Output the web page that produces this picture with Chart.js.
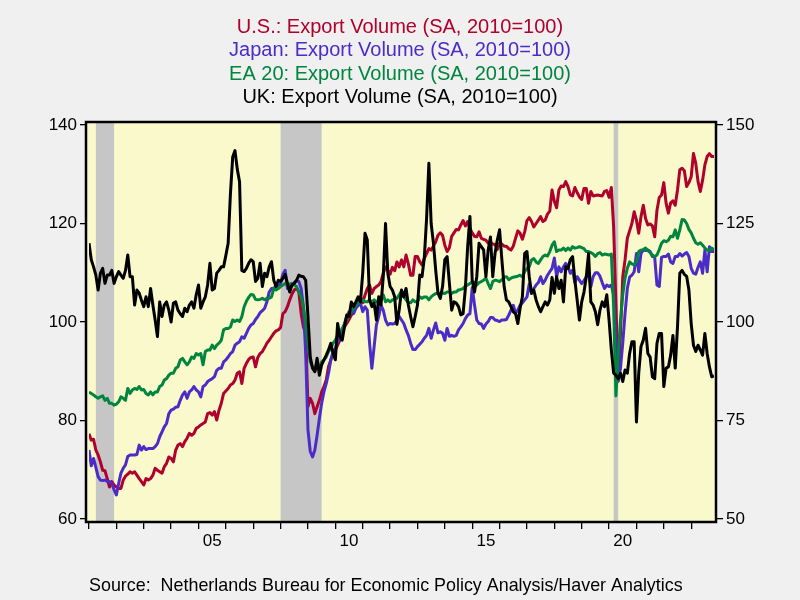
<!DOCTYPE html>
<html>
<head>
<meta charset="utf-8">
<script src="https://cdn.jsdelivr.net/npm/chart.js@4.4.0/dist/chart.umd.min.js"></script>
<style>
  body { margin: 0; background: #f0f0f0; }
  #marco { width: 800px; height: 600px; }
</style>
</head>
<body>
<div id="marco"><canvas id="exportaciones" width="800" height="600"></canvas></div>
<script>
// Volumen de exportaciones (SA, 2010=100), datos mensuales desde ene-2001
var anioInicio = 2001;
var aniosEtiqueta = [2005, 2010, 2015, 2020];
var textosEtiqueta = ['05', '10', '15', '20'];
var ticksIzq = [60, 80, 100, 120, 140];
var ticksDer = [50, 75, 100, 125, 150];
// recesiones: [anio, mes, anio, mes]
var recesiones = [[2001, 4, 2001, 12], [2008, 1, 2009, 7], [2020, 3, 2020, 5]];

var eeuu = [
  77.3, 76.0, 76.2, 74.0, 73.0, 71.6, 69.9, 69.8, 68.2, 66.5, 67.6, 66.9, 66.5, 66.2, 66.2, 67.9, 68.7, 69.1, 69.6, 69.3,
  69.6, 68.9, 68.2, 67.6, 66.9, 68.2, 67.9, 68.2, 68.9, 70.3, 69.9, 69.6, 69.3, 70.6, 71.3, 72.6, 72.3, 71.6, 74.0, 75.0,
  75.3, 74.7, 75.7, 76.4, 77.4, 77.0, 77.4, 78.4, 78.7, 79.1, 79.4, 79.7, 81.4, 81.6, 81.1, 81.8, 80.1, 82.1, 83.5, 85.5,
  86.0, 86.5, 87.2, 87.5, 88.2, 89.6, 89.9, 87.5, 90.6, 91.6, 92.4, 92.8, 92.9, 90.9, 92.8, 93.6, 94.0, 94.8, 95.7, 96.3,
  97.0, 97.7, 98.2, 98.4, 98.9, 101.7, 102.1, 103.1, 104.5, 105.7, 106.5, 106.8, 106.1, 101.7, 99.0, 97.7, 82.8, 84.5, 83.5, 81.4,
  82.8, 84.1, 85.8, 86.9, 88.2, 90.9, 92.3, 93.6, 94.3, 95.3, 96.3, 98.0, 99.0, 99.7, 100.5, 101.4, 102.1, 103.4, 104.5, 105.1,
  103.9, 105.5, 106.8, 107.5, 105.8, 106.8, 107.2, 107.5, 108.2, 109.9, 111.2, 110.5, 109.7, 111.1, 110.4, 112.2, 111.2, 112.6, 111.2, 113.6,
  111.8, 109.5, 109.5, 113.3, 113.3, 112.2, 111.6, 112.9, 113.9, 114.9, 114.6, 115.4, 116.3, 117.6, 118.1, 117.6, 115.6, 114.3, 115.1, 117.4,
  118.1, 118.8, 118.7, 119.7, 120.6, 119.5, 120.4, 119.0, 118.1, 117.4, 117.3, 118.3, 117.0, 116.8, 116.6, 116.0, 116.3, 115.8, 115.8, 114.7,
  116.0, 115.8, 115.4, 115.4, 114.9, 114.6, 115.4, 117.0, 118.5, 118.0, 116.8, 118.3, 120.6, 121.2, 120.4, 119.3, 120.0, 120.7, 121.4, 120.4,
  120.7, 121.9, 122.5, 126.8, 124.5, 123.2, 126.8, 127.6, 127.5, 128.5, 127.5, 125.8, 125.6, 127.3, 126.3, 125.4, 124.9, 127.1, 127.1, 124.1,
  126.5, 125.6, 125.7, 125.8, 125.7, 125.6, 126.5, 126.7, 125.3, 127.3, 119.3, 103.8, 88.0, 97.5, 109.2, 112.6, 117.0, 118.5, 120.0, 122.4,
  120.7, 118.0, 121.4, 123.7, 121.0, 119.7, 119.9, 119.5, 117.3, 122.7, 125.3, 125.8, 128.3, 124.1, 122.1, 124.2, 124.6, 123.7, 126.8, 130.9,
  131.2, 130.7, 127.5, 128.3, 129.5, 134.2, 132.2, 128.5, 126.5, 128.8, 131.9, 133.6, 134.2, 133.6, 133.6
];

var japon = [
  74.0, 70.8, 72.3, 70.5, 68.6, 67.9, 67.8, 67.9, 67.6, 67.6, 67.2, 65.9, 64.9, 67.2, 69.3, 70.3, 71.0, 72.7, 73.0, 73.0,
  73.0, 73.1, 75.0, 74.0, 74.7, 74.1, 74.3, 74.3, 74.3, 74.7, 75.3, 76.7, 77.7, 78.7, 79.4, 81.4, 82.1, 82.3, 82.7, 82.8,
  84.1, 85.2, 85.8, 84.5, 85.8, 86.2, 86.9, 86.2, 85.8, 84.8, 86.9, 87.2, 87.9, 88.2, 88.5, 88.9, 90.2, 90.6, 90.6, 91.9,
  92.3, 92.9, 93.6, 94.0, 95.3, 95.7, 96.0, 97.0, 96.7, 97.7, 98.7, 99.4, 99.7, 100.5, 101.1, 101.9, 102.3, 102.8, 104.1, 106.1,
  106.8, 106.8, 107.5, 107.2, 107.8, 109.7, 110.5, 106.8, 106.8, 107.5, 108.0, 108.4, 108.2, 106.8, 103.1, 93.6, 78.1, 73.7, 72.6, 74.0,
  77.0, 80.4, 83.5, 85.8, 87.5, 89.6, 92.3, 94.0, 94.6, 96.0, 97.0, 98.4, 99.7, 101.1, 102.1, 102.1, 101.7, 102.8, 103.4, 103.8,
  102.1, 103.1, 102.4, 95.7, 90.6, 95.0, 99.4, 101.1, 103.4, 102.4, 100.4, 99.4, 99.7, 99.6, 99.7, 100.4, 101.1, 100.4, 99.7, 98.4,
  97.3, 95.7, 94.4, 94.4, 95.0, 95.5, 96.0, 96.7, 97.3, 98.7, 96.7, 98.4, 99.8, 97.8, 98.0, 97.7, 96.3, 98.7, 97.1, 97.3,
  97.1, 97.3, 98.4, 99.0, 99.7, 100.7, 101.4, 101.7, 107.0, 103.5, 100.4, 99.7, 99.6, 98.7, 99.6, 100.1, 100.9, 100.9, 100.4, 100.3,
  100.1, 100.4, 100.4, 100.5, 101.4, 102.4, 103.4, 101.9, 102.4, 103.4, 103.9, 104.5, 105.1, 107.7, 105.8, 106.8, 107.5, 108.0, 109.2, 107.8,
  108.5, 109.5, 110.2, 110.9, 113.0, 109.2, 111.2, 110.2, 111.2, 111.9, 111.2, 109.9, 110.5, 108.0, 109.2, 108.5, 107.8, 108.4, 109.2, 109.9,
  107.2, 109.2, 110.0, 110.0, 109.3, 108.0, 106.8, 107.5, 107.2, 107.5, 105.5, 96.0, 88.0, 90.6, 95.7, 101.7, 106.8, 109.1, 109.5, 110.2,
  113.9, 110.2, 113.9, 114.6, 114.5, 114.6, 114.3, 113.3, 113.1, 107.5, 107.2, 113.1, 113.3, 113.3, 113.8, 112.2, 111.9, 113.3, 113.3, 113.9,
  113.4, 113.8, 114.1, 113.3, 110.9, 109.9, 109.7, 111.1, 112.2, 109.9, 114.6, 110.2, 115.3, 114.3, 114.3
];

var ea20 = [
  85.8, 85.5, 85.2, 84.8, 84.5, 84.8, 85.0, 84.1, 84.5, 83.5, 83.5, 83.1, 83.3, 83.8, 84.8, 84.5, 84.1, 86.5, 85.5, 86.2,
  86.5, 86.3, 86.9, 86.2, 86.3, 85.5, 85.2, 85.8, 85.2, 85.8, 85.8, 86.9, 87.2, 88.2, 88.5, 89.2, 89.6, 89.6, 90.6, 90.9,
  92.3, 92.6, 91.9, 91.3, 91.9, 92.9, 92.6, 93.6, 93.3, 93.6, 91.3, 94.0, 94.3, 94.3, 95.3, 94.6, 95.3, 95.7, 96.3, 98.4,
  98.7, 98.7, 99.0, 100.4, 100.1, 100.4, 100.1, 101.1, 103.1, 104.2, 105.0, 105.6, 105.5, 104.6, 104.5, 104.6, 104.8, 104.5, 104.8, 104.8,
  105.1, 106.8, 106.5, 106.8, 107.2, 107.5, 107.8, 107.5, 107.7, 107.8, 107.5, 107.2, 106.1, 105.1, 103.1, 99.7, 95.7, 91.9, 90.9, 90.2,
  90.6, 90.9, 91.9, 92.3, 92.9, 94.0, 94.6, 95.7, 96.3, 97.3, 97.7, 98.7, 99.4, 100.4, 101.4, 102.1, 102.8, 103.4, 103.8, 104.1,
  104.5, 104.1, 104.1, 104.5, 104.1, 104.5, 104.1, 104.5, 105.1, 105.5, 104.1, 104.5, 104.1, 104.5, 104.6, 104.8, 105.5, 106.3, 105.1, 104.5,
  103.9, 103.9, 104.5, 104.1, 104.1, 105.1, 104.8, 105.1, 105.1, 104.5, 105.1, 105.5, 105.8, 105.8, 105.8, 105.9, 105.8, 106.1, 106.1, 105.8,
  106.1, 106.1, 106.5, 106.6, 106.8, 107.3, 107.5, 107.8, 108.2, 108.0, 107.5, 108.0, 108.2, 108.5, 108.9, 107.8, 106.8, 108.2, 108.5, 108.4,
  108.2, 108.6, 109.1, 109.2, 108.6, 108.9, 109.1, 109.2, 109.3, 109.5, 109.2, 110.2, 110.9, 111.2, 112.6, 112.9, 112.2, 111.9, 112.6, 113.3,
  113.6, 113.4, 114.3, 115.6, 116.3, 114.3, 114.6, 114.6, 115.0, 114.5, 115.0, 114.6, 115.3, 115.0, 115.1, 115.3, 115.1, 114.9, 114.3, 114.3,
  114.1, 113.8, 113.3, 113.9, 114.1, 113.6, 113.8, 113.7, 113.6, 113.8, 103.1, 85.0, 93.0, 100.4, 105.5, 108.9, 110.9, 112.2, 111.8, 111.6,
  112.2, 114.3, 114.6, 114.7, 115.0, 114.5, 114.1, 113.6, 113.3, 113.6, 114.7, 116.0, 116.5, 116.3, 116.6, 117.4, 117.3, 118.7, 117.0, 118.7,
  120.8, 120.7, 120.0, 118.8, 118.1, 117.0, 116.1, 115.8, 116.1, 115.6, 115.0, 114.6, 114.5, 115.0, 114.6
];

// eje derecho
var reinoUnido = [
  120.0, 115.8, 114.0, 111.9, 108.1, 112.4, 113.6, 109.8, 111.9, 111.9, 113.1, 109.8, 111.5, 112.8, 111.9, 111.1, 113.1, 117.0, 111.5, 111.5,
  104.3, 108.1, 107.3, 105.5, 103.9, 106.4, 103.9, 108.5, 104.3, 100.5, 96.3, 105.1, 101.4, 104.3, 105.1, 103.0, 100.0, 104.8, 105.1, 103.0,
  102.1, 101.4, 103.5, 102.6, 104.3, 105.1, 103.5, 106.9, 109.4, 103.5, 105.1, 106.4, 109.4, 114.9, 108.1, 108.5, 112.4, 113.1, 114.0, 114.0,
  116.9, 120.0, 132.5, 141.9, 143.5, 138.8, 135.6, 113.1, 112.8, 113.6, 114.9, 115.8, 115.3, 110.3, 111.1, 114.9, 109.0, 112.4, 111.5, 114.0,
  115.3, 110.6, 109.0, 110.6, 110.3, 111.1, 112.1, 109.8, 107.6, 109.4, 109.8, 110.6, 111.9, 111.6, 111.5, 110.6, 101.4, 91.1, 88.3, 87.4,
  90.8, 86.5, 89.1, 90.4, 91.6, 92.9, 94.6, 92.0, 90.4, 99.6, 96.3, 95.4, 98.8, 101.8, 101.4, 105.1, 103.9, 105.1, 106.4, 105.1,
  112.4, 122.5, 120.8, 105.6, 103.9, 104.8, 100.5, 106.4, 104.3, 111.5, 125.0, 112.4, 109.0, 108.1, 106.4, 99.4, 103.1, 108.1, 106.4, 108.5,
  104.3, 101.4, 98.8, 101.4, 104.3, 111.9, 111.5, 116.3, 126.3, 140.3, 125.0, 120.0, 113.1, 107.3, 106.0, 109.0, 115.8, 116.6, 109.8, 103.0,
  105.1, 104.8, 103.9, 101.8, 102.1, 108.5, 119.1, 126.8, 110.6, 107.6, 111.5, 120.0, 119.1, 118.3, 111.5, 118.3, 121.6, 111.5, 117.4, 120.8,
  123.4, 115.8, 109.0, 105.6, 105.1, 103.9, 102.6, 102.1, 99.6, 103.5, 106.4, 117.4, 117.9, 111.5, 107.3, 108.1, 105.6, 103.9, 102.6, 103.9,
  105.1, 104.3, 105.6, 111.3, 107.3, 111.5, 108.5, 110.6, 105.1, 114.0, 113.6, 115.8, 116.6, 110.6, 105.6, 100.5, 105.1, 107.6, 111.5, 117.4,
  105.1, 104.3, 102.6, 99.3, 103.0, 105.1, 103.9, 106.9, 100.5, 92.9, 87.0, 86.5, 85.6, 87.0, 84.9, 87.8, 87.0, 92.0, 95.0, 95.0,
  74.6, 87.0, 93.8, 95.4, 98.4, 92.0, 91.1, 86.1, 85.6, 94.6, 97.1, 97.1, 83.6, 88.3, 88.6, 91.6, 96.6, 88.3, 98.8, 112.4,
  113.1, 112.1, 111.6, 108.1, 99.6, 94.1, 92.5, 94.1, 92.9, 91.6, 97.1, 92.0, 88.6, 86.1, 86.3
];

var fuente = '"Liberation Sans", Arial, sans-serif';
var titulos = [
  ['U.S.: Export Volume (SA, 2010=100)', '#b0002c'],
  ['Japan: Export Volume (SA, 2010=100)', '#4a2cc8'],
  ['EA 20: Export Volume (SA, 2010=100)', '#00853f'],
  ['UK: Export Volume (SA, 2010=100)', '#000000']
];

function mes(anio, m) {
  return (anio - anioInicio) * 12 + (m - 1);
}

function puntos(serie) {
  return serie.map(function(v, i) { return { x: i, y: v }; });
}

// fondo amarillo, recesiones y marco
var fondoPlugin = {
  id: 'fondo',
  beforeDatasetsDraw: function(chart) {
    var a = chart.chartArea, ctx = chart.ctx, x = chart.scales.x;
    ctx.save();
    ctx.fillStyle = '#f9f9cb';
    ctx.fillRect(a.left - 3, a.top - 3, a.right - a.left + 5, a.bottom - a.top + 6);
    ctx.fillStyle = '#c6c6c6';
    recesiones.forEach(function(r) {
      var x0 = x.getPixelForValue(mes(r[0], r[1]));
      var x1 = x.getPixelForValue(mes(r[2], r[3]));
      ctx.fillRect(x0, a.top - 3, x1 - x0, a.bottom - a.top + 6);
    });
    ctx.restore();
  },
  afterDatasetsDraw: function(chart) {
    var a = chart.chartArea, ctx = chart.ctx;
    ctx.save();
    ctx.strokeStyle = '#000';
    ctx.lineWidth = 2.5;
    ctx.strokeRect(a.left - 3, a.top - 3, a.right - a.left + 5, a.bottom - a.top + 6);
    ctx.restore();
  },
  afterDraw: function(chart) {
    var ctx = chart.ctx;
    ctx.save();
    ctx.font = '20px ' + fuente;
    ctx.textAlign = 'center';
    ctx.textBaseline = 'middle';
    titulos.forEach(function(t, i) {
      ctx.fillStyle = t[1];
      ctx.fillText(t[0], 400, 27 + i * 23.6);
    });
    ctx.font = '17.9px ' + fuente;
    ctx.textAlign = 'left';
    ctx.fillStyle = '#000';
    ctx.fillText('Source:  Netherlands Bureau for Economic Policy Analysis/Haver Analytics', 89, 586);
    ctx.restore();
  }
};

var linea = { pointRadius: 0, borderWidth: 3, tension: 0, borderJoinStyle: 'round', fill: false };

var datos = {
  datasets: [
    Object.assign({ label: 'U.S.', data: puntos(eeuu), borderColor: '#b0002c', yAxisID: 'y', order: 3 }, linea),
    Object.assign({ label: 'Japan', data: puntos(japon), borderColor: '#4a2cc8', yAxisID: 'y', order: 2 }, linea),
    Object.assign({ label: 'EA 20', data: puntos(ea20), borderColor: '#00853f', yAxisID: 'y', order: 1 }, linea),
    Object.assign({ label: 'UK', data: puntos(reinoUnido), borderColor: '#000000', yAxisID: 'y1', order: 0 }, linea)
  ]
};

var ejeGrid = { drawOnChartArea: false, drawTicks: true, color: '#000', lineWidth: 1.3 };

var config = {
  type: 'line',
  data: datos,
  options: {
    responsive: false,
    animation: false,
    layout: { padding: { top: 125, bottom: 51, left: 0, right: 0 } },
    plugins: { legend: { display: false }, tooltip: { enabled: false }, title: { display: false } },
    scales: {
      x: {
        type: 'linear',
        min: 0,
        max: eeuu.length - 1,
        grid: Object.assign({ tickLength: 10 }, ejeGrid),
        border: { display: false },
        afterBuildTicks: function(eje) {
          var t = [];
          for (var m = 0; m <= eeuu.length - 1; m += 12) t.push({ value: m });
          eje.ticks = t;
        },
        afterFit: function(eje) { eje.height = 30; },
        ticks: {
          autoSkip: false,
          maxRotation: 0,
          labelOffset: 13.7,
          padding: 2,
          color: '#000',
          font: { family: fuente, size: 17 },
          callback: function(v) {
            var k = aniosEtiqueta.indexOf(anioInicio + v / 12);
            return k >= 0 ? textosEtiqueta[k] : '';
          }
        }
      },
      y: {
        position: 'left',
        min: ticksIzq[0],
        max: ticksIzq[ticksIzq.length - 1],
        grid: Object.assign({ tickLength: 9 }, ejeGrid),
        border: { display: false },
        afterBuildTicks: function(eje) { eje.ticks = ticksIzq.map(function(v) { return { value: v }; }); },
        afterFit: function(eje) { eje.width = 89; },
        ticks: { padding: 3, color: '#000', font: { family: fuente, size: 17 } }
      },
      y1: {
        position: 'right',
        min: ticksDer[0],
        max: ticksDer[ticksDer.length - 1],
        grid: Object.assign({ tickLength: 9 }, ejeGrid),
        border: { display: false },
        afterBuildTicks: function(eje) { eje.ticks = ticksDer.map(function(v) { return { value: v }; }); },
        afterFit: function(eje) { eje.width = 86; },
        ticks: { padding: 3, color: '#000', font: { family: fuente, size: 17 } }
      }
    }
  },
  plugins: [fondoPlugin]
};

var grafico = new Chart(document.getElementById('exportaciones'), config);
</script>
</body>
</html>
